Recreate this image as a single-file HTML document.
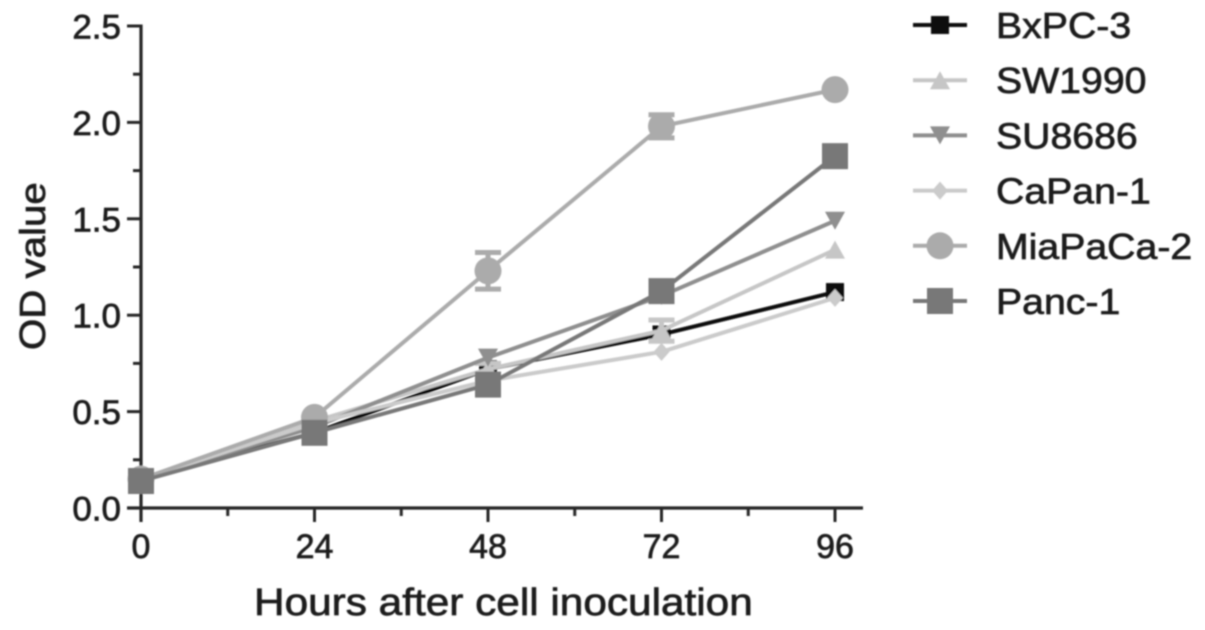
<!DOCTYPE html>
<html lang="en">
<head>
<meta charset="utf-8">
<title>OD value over time</title>
<style>
html,body{margin:0;padding:0;background:#fff;width:1205px;height:630px;overflow:hidden}
svg{display:block;font-family:"Liberation Sans",sans-serif}
</style>
</head>
<body>
<svg id="chart" width="1205" height="630" viewBox="0 0 1205 630" xmlns="http://www.w3.org/2000/svg">
<defs><filter id="soft" x="-2%" y="-2%" width="104%" height="104%"><feGaussianBlur stdDeviation="0.8"/></filter></defs>
<g id="root" filter="url(#soft)"></g>
</svg>
<script>
const hours = [0, 24, 48, 72, 96];
const xMinorTicks = [12, 36, 60, 84];
const yTicks = [0, 0.5, 1, 1.5, 2, 2.5];
const yTickLabels = ['0.0', '0.5', '1.0', '1.5', '2.0', '2.5'];
const yMinorTicks = [0.25, 0.75, 1.25, 1.75, 2.25];
const seriesNames = ['BxPC-3', 'SW1990', 'SU8686', 'CaPan-1', 'MiaPaCa-2', 'Panc-1'];
const bxpc3 = [0.15, 0.39, 0.72, 0.90, 1.12];
const sw1990 = [0.15, 0.45, 0.72, 0.92, 1.34];
const su8686 = [0.15, 0.42, 0.78, 1.10, 1.49];
const capan1 = [0.15, 0.44, 0.66, 0.81, 1.09];
const miapaca2 = [0.15, 0.47, 1.23, 1.98, 2.17];
const panc1 = [0.14, 0.39, 0.64, 1.125, 1.825];
const miapaca2Err = [0, 0, 0.095, 0.06, 0];
const sw1990Err = [0, 0, 0.03, 0.055, 0];

const seriesValues = [bxpc3, sw1990, su8686, capan1, miapaca2, panc1];
const seriesErrors = [null, sw1990Err, null, null, miapaca2Err, null];
const colors = ['#0c0c0c', '#c6c6c6', '#8f8f8f', '#cbcbcb', '#ababab', '#787878'];
const shapes = ['square', 'up', 'down', 'diamond', 'circle', 'bigsquare'];

const NS = 'http://www.w3.org/2000/svg';
const root = document.getElementById('root');
const xScale = h => 141 + h * (694 / 96);
const yScale = v => 508 - v * 192.8;

function make(tag, attrs, parent) {
  const el = document.createElementNS(NS, tag);
  for (const k in attrs) el.setAttribute(k, attrs[k]);
  (parent || root).appendChild(el);
  return el;
}
function segment(x1, y1, x2, y2, stroke, width, parent) {
  return make('line', {x1, y1, x2, y2, stroke, 'stroke-width': width}, parent);
}
function label(str, x, y, size, sx, anchor, parent, rot) {
  const t = make('text', {
    transform: 'translate(' + x + ',' + y + ')' + (rot ? ' rotate(' + rot + ')' : '') + ' scale(' + sx + ',1)',
    'font-size': size, 'text-anchor': anchor, fill: '#1c1c1c', stroke: '#1c1c1c', 'stroke-width': 0.7
  }, parent);
  t.textContent = str;
  return t;
}
function marker(shape, cx, cy, fill, parent) {
  let el;
  if (shape === 'square') {
    el = make('rect', {x: cx - 9, y: cy - 9, width: 18, height: 18, fill}, parent);
  } else if (shape === 'bigsquare') {
    el = make('rect', {x: cx - 13, y: cy - 13, width: 26, height: 26, fill}, parent);
  } else if (shape === 'circle') {
    el = make('circle', {cx, cy, r: 13.5, fill}, parent);
  } else if (shape === 'up') {
    el = make('polygon', {points: [cx, cy - 9, cx + 10, cy + 9, cx - 10, cy + 9].join(' '), fill}, parent);
  } else if (shape === 'down') {
    el = make('polygon', {points: [cx - 10, cy - 9, cx + 10, cy - 9, cx, cy + 9].join(' '), fill}, parent);
  } else {
    el = make('polygon', {points: [cx, cy - 9, cx + 8, cy, cx, cy + 9, cx - 8, cy].join(' '), fill}, parent);
  }
  return el;
}

const axisColor = '#262626';

const yAxis = make('g', {});


segment(141, 24.5, 141, 522, axisColor, 3.2, yAxis);
yTicks.forEach((v, i) => {
  const tick = segment(127, yScale(v), 141, yScale(v), axisColor, 3, yAxis);
  
  
  const t = label(yTickLabels[i], 121, yScale(v) + 12.5, 34, 1.03, 'end', yAxis);
  
  
});
yMinorTicks.forEach(v => {
  const tick = segment(133, yScale(v), 141, yScale(v), axisColor, 3, yAxis);
  
  
});

const xAxis = make('g', {});


segment(127, 508, 863, 508, axisColor, 3.2, xAxis);
hours.forEach(h => {
  const tick = segment(xScale(h), 508, xScale(h), 522, axisColor, 3, xAxis);
  
  
  const t = label(String(h), xScale(h), 558, 34, 1, 'middle', xAxis);
  
  
});
xMinorTicks.forEach(h => {
  const tick = segment(xScale(h), 508, xScale(h), 516, axisColor, 3, xAxis);
  
  
});

const xTitle = label('Hours after cell inoculation', 254, 615, 38, 1.114, 'start');


const yTitle = label('OD value', 45, 350, 36, 1.118, 'start', root, -90);



seriesValues.forEach((vals, s) => {
  const g = make('g', {});
  
  
  make('polyline', {
    points: vals.map((v, i) => xScale(hours[i]) + ',' + yScale(v)).join(' '),
    fill: 'none', stroke: colors[s], 'stroke-width': 4, 'stroke-linejoin': 'round'
  }, g);
  if (seriesErrors[s]) {
    seriesErrors[s].forEach((e, i) => {
      if (!e) return;
      const cx = xScale(hours[i]);
      const bar = make('g', {}, g);
      
      
      segment(cx, yScale(vals[i] + e), cx, yScale(vals[i] - e), colors[s], 5, bar);
      segment(cx - 13, yScale(vals[i] + e), cx + 13, yScale(vals[i] + e), colors[s], 5, bar);
      segment(cx - 13, yScale(vals[i] - e), cx + 13, yScale(vals[i] - e), colors[s], 5, bar);
    });
  }
  vals.forEach((v, i) => {
    const m = marker(shapes[s], xScale(hours[i]), yScale(v), colors[s], g);
    
    
  });
});

const legend = make('g', {});


seriesNames.forEach((name, s) => {
  const cy = 25 + s * 55.2;
  const row = make('g', {}, legend);
  
  
  segment(913, cy, 967, cy, colors[s], 4, row);
  marker(shapes[s], 940, cy, colors[s], row);
  label(name, 996, cy + 13, 36, 1.09, 'start', row);
});
</script>
</body>
</html>
